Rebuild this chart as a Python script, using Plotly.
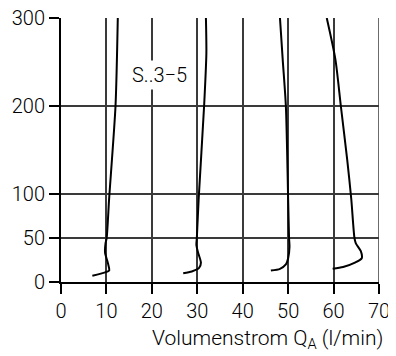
import plotly.graph_objects as go

# Curve data (flow rate l/min vs. y value)
c1_x = [6.9, 9.7, 10.6, 10.3, 9.7, 9.8, 10.05, 10.6, 12.0, 12.5]
c1_y = [7, 11, 13, 22, 33, 44, 50, 95, 200, 300]
c2_x = [26.9, 28.8, 30.4, 30.8, 30.2, 29.8, 29.9, 30.3, 31.5, 32.0, 31.9]
c2_y = [10, 12, 16, 22, 33, 42, 50, 94, 200, 260, 300]
c3_x = [46.2, 48.2, 49.5, 50.0, 50.3, 50.2, 50.0, 49.5, 48.8, 48.2]
c3_y = [13, 15, 20, 27, 40, 50, 94, 200, 253, 300]
c4_x = [59.8, 62.1, 64.7, 66.2, 66.0, 64.9, 64.6, 63.9, 63.0, 61.6, 60.4, 58.5]
c4_y = [15, 17, 22, 27, 35, 44, 50, 94, 139, 200, 253, 300]

x_ticks = [0, 10, 20, 30, 40, 50, 60, 70]
y_ticks = [0, 50, 100, 200, 300]
label_text = "S..3−5"
x_title = "Volumenstrom Q<sub>A</sub> (l/min)"

FONT = "Roboto"
TF = dict(family=FONT, size=20, color="black", weight=300)
TTL = dict(family=FONT, size=21, color="black", weight=300)
fig = go.Figure()
for xs, ys in [(c1_x, c1_y), (c2_x, c2_y), (c3_x, c3_y), (c4_x, c4_y)]:
    fig.add_trace(go.Scatter(x=xs, y=ys, mode="lines",
                             line=dict(color="black", width=2, shape="spline", smoothing=0.7),
                             showlegend=False, hoverinfo="skip"))

axis_common = dict(showgrid=True, gridcolor="#3a3a3a", gridwidth=1.5,
                   showline=True, linecolor="black", linewidth=2,
                   ticks="outside", ticklen=10, tickwidth=2, tickcolor="black",
                   zeroline=False, automargin=False, ticklabeloverflow="allow",
                   tickfont=TF)
fig.update_xaxes(range=[0, 70], tickmode="array", tickvals=x_ticks, **axis_common)
fig.update_yaxes(range=[0, 300], tickmode="array", tickvals=y_ticks, **axis_common)

# right border grid line at x = 70
fig.add_shape(type="line", xref="x", yref="y", x0=70, x1=70, y0=0, y1=300,
              line=dict(color="#3a3a3a", width=1.5), layer="below")

fig.add_annotation(x=21.6, y=235, xref="x", yref="y", text=label_text, showarrow=False,
                   font=TF, bgcolor="white", borderpad=2)
fig.add_annotation(x=1.019, y=-0.218, xref="paper", yref="paper", text=x_title,
                   showarrow=False, xanchor="right", yanchor="middle", font=TTL)

# page body has an 8px margin; figure is sized/offset to compensate
fig.update_layout(width=388, height=348, margin=dict(l=53, r=17, t=10, b=74, autoexpand=False),
                  plot_bgcolor="white", paper_bgcolor="white")
fig.write_html("out.html")
